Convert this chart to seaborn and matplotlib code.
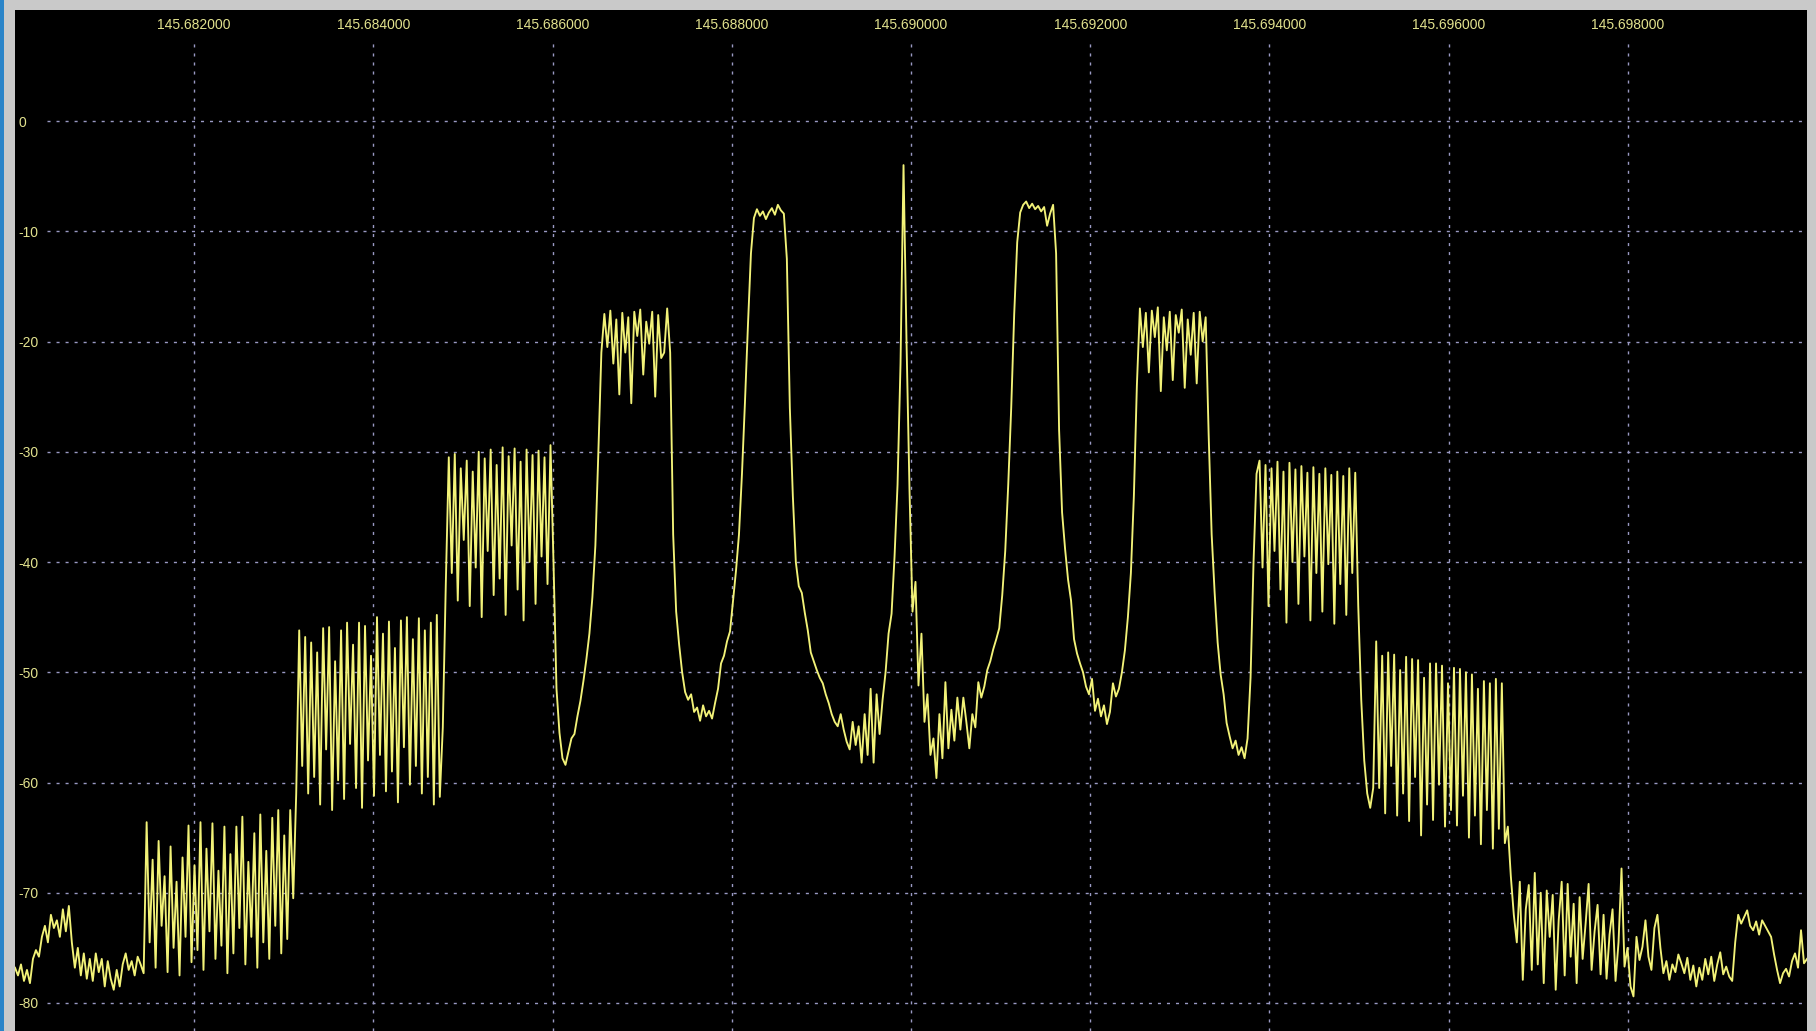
import numpy as np
import matplotlib
matplotlib.use("Agg")
import matplotlib.pyplot as plt
from matplotlib.patches import Rectangle
from matplotlib import font_manager
import seaborn as sns

# ---- trace levels (dB), one value per FFT bin, left to right ----
floor_left = [-76.8, -77.5, -76.5, -78.0, -77.0, -78.2, -76.0, -75.2, -75.8, -74.0,
              -73.0, -74.5, -72.0, -73.2, -72.5, -74.0, -71.5, -73.5, -71.2, -74.5,
              -76.8, -75.0, -77.5, -75.5, -77.8, -76.0, -78.0, -75.5, -77.2, -76.0,
              -78.5, -76.2, -77.8, -78.8, -77.0, -78.5, -76.5, -75.5, -77.0, -76.2,
              -77.5, -75.8, -76.5, -77.3]
comb_lo3 = [-63.6, -74.5, -67.0, -76.8, -65.3, -73.0, -68.5, -77.2, -65.8, -75.0,
            -69.0, -77.5, -66.8, -74.0, -63.9, -76.3, -67.5, -75.2, -63.6, -77.0,
            -66.0, -73.5, -63.7, -76.0, -68.0, -74.8, -64.0, -77.3, -66.5, -75.5,
            -64.0, -73.2, -63.1, -76.5, -67.2, -74.0, -64.6, -76.8, -62.9, -74.5,
            -66.2, -76.0, -63.2, -73.0, -62.5, -75.5, -64.8, -74.2, -62.5]
step_lo3 = [-70.5, -61.0]
comb_lo2 = [-46.2, -58.5, -46.8, -61.0, -47.3, -59.5, -48.2, -62.0, -46.0, -57.0,
            -45.9, -62.5, -49.0, -59.8, -46.2, -61.5, -45.5, -56.5, -47.5, -60.5,
            -45.5, -62.3, -45.8, -58.0, -48.5, -61.2, -45.0, -57.5, -46.5, -60.8,
            -45.4, -59.0, -47.8, -61.8, -45.3, -56.8, -45.0, -60.2, -47.0, -58.5,
            -45.1, -61.0, -46.2, -59.5, -45.5, -62.0, -44.8, -61.3]
step_lo2 = [-55.0, -42.0]
comb_lo1 = [-30.5, -41.0, -30.2, -43.5, -31.5, -38.0, -30.8, -44.0, -31.8, -40.5,
            -30.0, -45.0, -30.6, -39.0, -29.8, -43.0, -31.2, -41.5, -29.6, -44.8,
            -30.4, -38.5, -29.7, -42.5, -30.9, -45.3, -29.8, -40.0, -30.3, -43.8,
            -29.9, -39.5, -30.5, -42.0, -29.4]
notch_a = [-40.0, -51.5, -55.5, -57.8, -58.4, -57.2, -56.0, -55.6, -54.0, -52.6,
           -50.8, -48.8, -46.5, -43.2, -38.5, -30.0, -21.0]
band_lo = [-17.5, -20.5, -17.2, -22.0, -18.0, -24.8, -17.4, -21.0, -17.8, -25.6,
           -17.3, -19.5, -17.1, -23.0, -18.2, -20.2, -17.3, -25.0, -17.6, -21.5,
           -21.0, -17.0]
notch_b = [-21.0, -37.5, -44.5, -47.5, -50.0, -51.8, -52.5, -52.0, -53.6, -53.2,
           -54.4, -53.0, -54.0, -53.5, -54.2, -52.8, -51.5, -49.2, -48.5, -47.2,
           -46.3, -43.5, -40.8, -37.5, -32.0, -25.5, -18.5, -12.0]
tone_lo = [-8.8, -8.0, -8.6, -8.2, -8.9, -8.3, -7.9, -8.5, -7.6, -8.1, -8.4]
carrier_region = [-12.5, -26.0, -34.0, -40.0, -42.2, -42.8, -44.6, -46.2, -48.2, -49.0,
                  -49.8, -50.5, -51.0, -52.0, -52.8, -53.8, -54.5, -54.9, -53.8, -55.2,
                  -56.3, -57.0, -54.5, -56.6, -54.9, -58.2, -53.8, -57.5, -51.5, -58.2,
                  -52.0, -55.6, -52.5, -50.0, -46.5, -44.7, -39.5, -33.0, -22.0, -4.0,
                  -20.0, -33.5, -44.5, -41.8, -51.2, -46.5, -54.5, -52.0, -57.5, -56.0,
                  -59.6, -53.8, -57.8, -50.9, -56.9, -53.4, -56.2, -52.3, -55.2, -52.3,
                  -54.5, -56.9, -53.8, -55.0, -50.9, -52.3, -51.3, -49.8, -49.0, -47.9,
                  -47.0, -46.0, -43.0, -39.0, -33.0, -26.0, -17.5, -11.0, -8.3]
tone_hi = [-7.6, -7.3, -7.9, -7.5, -8.0, -7.7, -8.2, -7.8, -9.5, -8.4, -7.6]
notch_c = [-12.0, -28.0, -35.5, -38.8, -41.6, -43.5, -47.0, -48.3, -49.2, -50.0,
           -51.3, -52.0, -50.6, -53.5, -52.4, -54.0, -53.0, -54.7, -53.6, -51.0,
           -52.2, -51.5, -50.0, -48.0, -45.0, -41.0, -34.0, -24.0]
band_hi = [-17.0, -20.5, -17.4, -22.8, -17.2, -19.6, -16.9, -24.5, -17.8, -20.8,
           -17.3, -23.5, -17.6, -19.2, -17.1, -24.2, -18.0, -21.2, -17.4, -23.8,
           -17.3, -20.0, -17.8]
notch_d = [-28.5, -37.5, -42.8, -47.3, -50.2, -52.0, -54.6, -55.8, -56.9, -56.2,
           -57.5, -56.8, -57.8, -56.0, -50.5, -40.0, -32.0]
comb_hi1 = [-30.8, -40.5, -31.2, -44.0, -31.5, -39.0, -30.9, -42.5, -31.8, -45.5,
            -31.0, -40.0, -31.6, -43.8, -31.3, -39.5, -31.9, -45.3, -31.4, -41.0,
            -32.0, -44.5, -31.5, -40.2, -32.1, -45.6, -31.8, -42.0, -32.2, -44.8,
            -31.5, -41.0, -31.9]
step_hi1 = [-44.0, -52.5, -58.0, -61.0, -62.3, -60.5]
comb_hi2 = [-47.2, -60.5, -48.5, -62.8, -48.2, -58.5, -48.4, -63.0, -49.8, -61.0,
            -48.6, -63.5, -48.8, -59.5, -48.9, -64.8, -50.5, -62.0, -49.2, -63.4,
            -49.2, -60.2, -49.4, -64.0, -51.0, -62.5, -49.6, -63.9, -49.7, -61.2,
            -50.0, -65.0, -50.2, -63.0, -51.5, -65.6, -50.8, -62.5, -51.0, -66.0,
            -50.6, -64.2, -51.0, -65.5]
step_hi2 = [-64.0, -68.5, -72.0]
comb_hi3 = [-74.5, -69.0, -77.9, -71.5, -69.3, -77.0, -68.2, -76.5, -70.0, -78.2,
            -69.8, -74.0, -70.2, -78.8, -72.5, -69.0, -77.5, -69.2, -75.8, -71.0,
            -78.2, -70.4, -76.0, -72.8, -69.2, -77.0, -73.5, -71.1, -77.4, -72.0,
            -77.8, -73.8, -71.5, -78.0, -74.5, -67.8]
floor_right = [-76.7, -75.0, -78.5, -79.4, -74.0, -76.1, -74.9, -72.5, -75.8, -77.0,
               -73.2, -72.0, -75.0, -77.3, -76.2, -77.9, -76.5, -77.2, -75.6, -76.4,
               -77.3, -75.9, -77.9, -76.6, -78.5, -76.8, -77.9, -76.0, -77.4, -75.8,
               -78.0, -76.5, -75.4, -77.4, -76.7, -77.6, -78.0, -74.5, -72.0, -72.8,
               -72.2, -71.6, -73.0, -73.4, -72.6, -73.8, -72.5, -73.0, -73.5, -74.0,
               -75.6, -77.0, -78.2, -77.3, -76.9, -77.6, -76.2, -75.5, -76.8, -73.4,
               -76.4, -76.0]

# ---- axis set-up values ----
freq_start_mhz = 145.680
freq_stop_mhz = 145.700
level_top_db = 10.07
level_bottom_db = -82.54
freq_ticks = [145.682, 145.684, 145.686, 145.688, 145.690, 145.692, 145.694, 145.696, 145.698]
freq_tick_labels = ["145.682000", "145.684000", "145.686000", "145.688000", "145.690000",
                    "145.692000", "145.694000", "145.696000", "145.698000"]
level_ticks = [0, -10, -20, -30, -40, -50, -60, -70, -80]
level_tick_labels = ["0", "-10", "-20", "-30", "-40", "-50", "-60", "-70", "-80"]

segments = [floor_left, comb_lo3, step_lo3, comb_lo2, step_lo2, comb_lo1, notch_a,
            band_lo, notch_b, tone_lo, carrier_region, tone_hi, notch_c, band_hi,
            notch_d, comb_hi1, step_hi1, comb_hi2, step_hi2, comb_hi3, floor_right]
level_db = np.concatenate([np.asarray(s, dtype=float) for s in segments])
freq_mhz = np.linspace(freq_start_mhz, freq_stop_mhz, len(level_db))

# ---- colours / fonts ----
trace_color = "#f2f278"
label_color = "#e2e28e"
grid_color = "#9a9ac4"
frame_grey = "#c9c9c9"

available = {f.name for f in font_manager.fontManager.ttflist}
if "Liberation Sans Narrow" in available:
    label_font, label_size = "Liberation Sans Narrow", 12
else:
    label_font, label_size = "Liberation Sans", 10

W, H, DPI = 1816, 1031, 100
fig = plt.figure(figsize=(W / DPI, H / DPI), dpi=DPI, facecolor=frame_grey)
fig.patches.append(Rectangle((0, 0), 4 / W, 1, transform=fig.transFigure,
                             facecolor="#2a84c8", edgecolor="none", zorder=0))

left_px, right_px, top_px = 15, 1807, 10
ax = fig.add_axes([left_px / W, 0, (right_px - left_px) / W, (H - top_px) / H])
ax.set_facecolor("black")
for s in ax.spines.values():
    s.set_visible(False)

ax.set_xlim(freq_start_mhz, freq_stop_mhz)
ax.set_ylim(level_bottom_db, level_top_db)

# dotted grid, horizontal lines start just right of the level labels
dash = (0, (2.2, 4.3))
hgrid_start = (47 - left_px) / (right_px - left_px)
for lv in level_ticks:
    ax.axhline(lv, xmin=hgrid_start, xmax=1, color=grid_color, lw=1.0,
               linestyle=dash, zorder=1)
vgrid_top = (H - 41) / (H - top_px)
for fq in freq_ticks:
    ax.axvline(fq, ymin=0, ymax=vgrid_top, color=grid_color, lw=1.0,
               linestyle=dash, zorder=1)

sns.lineplot(x=freq_mhz, y=level_db, ax=ax, color=trace_color, linewidth=1.35,
             zorder=3)
ax.set_xlabel("")
ax.set_ylabel("")

# frequency labels along the top, inside the plot
ax.set_xticks(freq_ticks)
ax.set_xticklabels(freq_tick_labels)
ax.tick_params(axis="x", which="both", bottom=False, labelbottom=False,
               top=False, labeltop=True, length=0, pad=-16,
               labelcolor=label_color, labelsize=label_size)
# level labels at the left, inside the plot
ax.set_yticks(level_ticks)
ax.set_yticklabels(level_tick_labels)
ax.tick_params(axis="y", which="both", left=False, labelleft=True, length=0,
               pad=-2.2, labelcolor=label_color, labelsize=label_size)
for lbl in ax.get_yticklabels():
    lbl.set_horizontalalignment("left")
    lbl.set_fontfamily(label_font)
for lbl in ax.get_xticklabels():
    lbl.set_fontfamily(label_font)

fig.savefig("out.png", dpi=DPI, facecolor=fig.get_facecolor())
